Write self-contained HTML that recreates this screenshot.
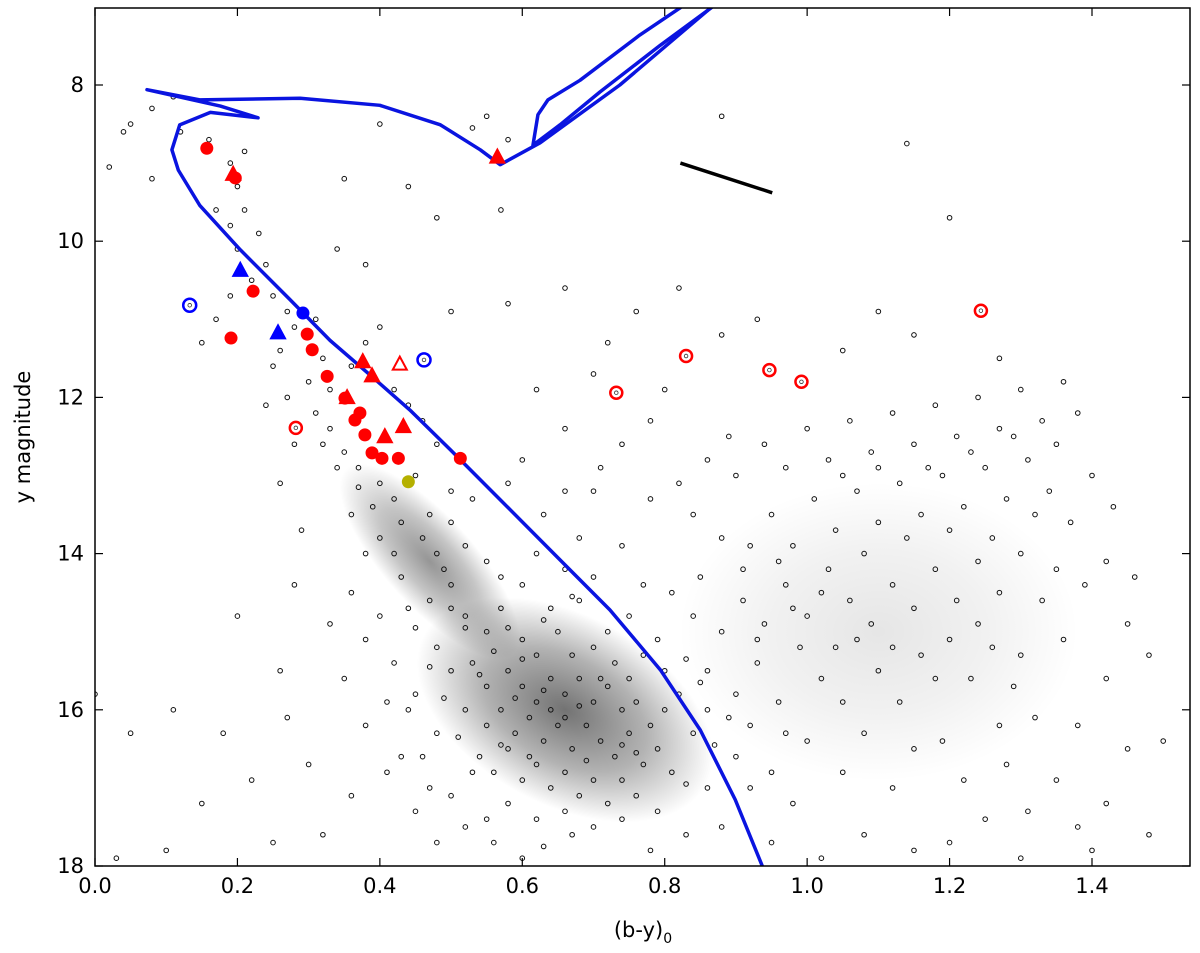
<!DOCTYPE html>
<html><head><meta charset="utf-8"><style>
html,body{margin:0;padding:0;background:#fff;overflow:hidden}
svg{display:block}
text{font-family:"DejaVu Sans","Liberation Sans",sans-serif;fill:#000}
</style></head><body>
<svg id="chart" width="1200" height="953" viewBox="0 0 1200 953" xmlns="http://www.w3.org/2000/svg">
<defs>
<radialGradient id="core" cx="50%" cy="50%" r="50%">
<stop offset="0%" stop-color="#000" stop-opacity="0.55"/>
<stop offset="55%" stop-color="#000" stop-opacity="0.3"/>
<stop offset="100%" stop-color="#000" stop-opacity="0"/>
</radialGradient>
<clipPath id="plotclip"><rect x="95" y="8" width="1095" height="858"/></clipPath>
</defs>
<g id="plot" clip-path="url(#plotclip)"></g>
<g id="axes"></g>
<text x="30" y="437" font-size="21" text-anchor="middle" transform="rotate(-90 30 437)">y magnitude</text>
<text x="643" y="937" font-size="21" text-anchor="middle">(b-y)<tspan font-size="14" dy="6">0</tspan></text>
</svg>
<script>
const xTicks=[0.0,0.2,0.4,0.6,0.8,1.0,1.2,1.4];
const yTicks=[8,10,12,14,16,18];
const isoMain=[[0.937,18.0],[0.899,17.15],[0.850,16.26],[0.794,15.49],[0.723,14.72],[0.653,14.08],[0.569,13.31],[0.499,12.67],[0.442,12.16],[0.386,11.71],[0.330,11.27],[0.274,10.75],[0.204,10.11],[0.147,9.54],[0.117,9.09],[0.108,8.83],[0.119,8.51],[0.162,8.35],[0.229,8.42],[0.176,8.27],[0.073,8.06],[0.147,8.19],[0.288,8.17],[0.400,8.26],[0.485,8.51],[0.541,8.83],[0.569,9.02],[0.625,8.74],[0.737,8.0],[0.861,7.04],[0.88,6.9]];
const isoAgb=[[0.80,6.9],[0.822,7.01],[0.765,7.36],[0.681,7.94],[0.636,8.19],[0.622,8.38],[0.615,8.77],[0.653,8.51],[0.709,8.09],[0.794,7.49],[0.867,7.0]];
const reddening=[[0.822,9.0],[0.951,9.38]];
const redCircles=[[0.157,8.81],[0.197,9.19],[0.222,10.64],[0.191,11.24],[0.298,11.19],[0.305,11.39],[0.326,11.73],[0.351,12.01],[0.372,12.20],[0.365,12.29],[0.379,12.48],[0.389,12.71],[0.403,12.78],[0.426,12.78],[0.513,12.78]];
const redTriangles=[[0.194,9.15],[0.565,8.93],[0.376,11.55],[0.389,11.73],[0.354,12.01],[0.407,12.51],[0.433,12.38]];
const redOpenTriangles=[[0.428,11.58]];
const redRings=[[0.282,12.39],[0.732,11.94],[0.830,11.47],[0.947,11.65],[0.992,11.80],[1.244,10.89]];
const blueCircles=[[0.292,10.92]];
const blueTriangles=[[0.204,10.38],[0.257,11.18]];
const blueRings=[[0.133,10.82],[0.462,11.52]];
const yellowCircles=[[0.440,13.08]];
const fieldStars=[
[0.05,8.5],[0.08,8.3],[0.11,8.15],[0.04,8.6],[0.02,9.05],[0.08,9.2],[0.12,8.6],[0.16,8.7],[0.19,9.0],[0.21,8.85],[0.2,9.3],[0.17,9.6],[0.19,9.8],[0.21,9.6],[0.23,9.9],[0.2,10.1],[0.24,10.3],[0.22,10.5],[0.19,10.7],[0.17,11.0],[0.15,11.3],[0.25,10.7],[0.27,10.9],[0.26,11.4],[0.28,11.1],[0.31,11.0],[0.32,11.5],[0.3,11.8],[0.33,11.9],[0.36,11.6],[0.38,11.3],[0.4,11.1],[0.42,11.9],[0.44,12.1],[0.46,12.3],[0.25,11.6],[0.27,12.0],[0.24,12.1],[0.28,12.6],[0.26,13.1],[0.33,12.4],[0.35,12.7],[0.37,12.9],[0.4,13.1],[0.42,13.3],[0.45,13.0],[0.48,12.6],[0.5,13.2],[0.43,13.6],[0.46,13.8],[0.48,14.0],[0.5,13.6],[0.52,13.9],[0.55,14.1],[0.53,13.3],[0.58,13.1],[0.6,12.8],[0.63,13.5],[0.57,14.3],[0.6,14.4],[0.62,14.0],[0.66,14.2],[0.7,14.3],[0.64,14.7],[0.68,14.6],[0.72,15.0],[0.5,14.4],[0.47,14.6],[0.52,14.8],[0.55,15.0],[0.57,14.7],[0.6,15.1],[0.62,15.3],[0.65,15.0],[0.67,15.3],[0.7,15.2],[0.73,15.4],[0.75,15.6],[0.77,15.3],[0.8,15.5],[0.82,15.8],[0.48,15.2],[0.5,15.5],[0.53,15.4],[0.55,15.7],[0.58,15.5],[0.6,15.7],[0.62,15.9],[0.64,15.6],[0.66,15.8],[0.68,15.6],[0.7,15.9],[0.72,15.7],[0.74,16.0],[0.76,15.9],[0.78,16.2],[0.8,16.0],[0.84,16.3],[0.86,16.0],[0.52,16.0],[0.55,16.2],[0.57,16.0],[0.59,16.3],[0.61,16.1],[0.63,16.4],[0.65,16.2],[0.67,16.5],[0.69,16.2],[0.71,16.4],[0.73,16.6],[0.75,16.3],[0.77,16.7],[0.79,16.5],[0.81,16.8],[0.54,16.6],[0.56,16.8],[0.58,16.5],[0.6,16.9],[0.62,16.7],[0.64,17.0],[0.66,16.8],[0.68,17.1],[0.7,16.9],[0.72,17.2],[0.74,16.9],[0.76,17.1],[0.58,17.2],[0.62,17.4],[0.66,17.3],[0.7,17.5],[0.74,17.4],[0.5,17.1],[0.46,16.6],[0.44,16.0],[0.42,15.4],[0.45,15.8],[0.48,16.3],[0.4,14.8],[0.43,14.3],[0.38,14.0],[0.36,13.5],[0.4,13.8],[0.52,17.5],[0.56,17.7],[0.6,17.9],[0.45,17.3],[0.41,16.8],[0.38,16.2],[0.35,15.6],[0.3,16.7],[0.32,17.6],[0.26,15.5],[0.22,16.9],[0.15,17.2],[0.03,17.9],[0.1,17.8],[0.05,16.3],[0.11,16.0],[0.2,14.8],[0.28,14.4],[0.29,13.7],[0.86,17.0],[0.88,17.5],[0.9,16.6],[0.92,16.2],[0.95,16.8],[0.98,17.2],[1.0,16.4],[0.9,15.8],[0.93,15.4],[0.96,15.9],[0.99,15.2],[1.02,15.6],[1.05,15.9],[1.08,16.3],[1.1,15.5],[1.13,15.9],[1.16,15.3],[0.88,15.0],[0.91,14.6],[0.94,14.9],[0.97,14.4],[1.0,14.8],[1.03,14.2],[1.06,14.6],[1.09,14.9],[1.12,14.4],[1.15,14.7],[1.18,14.2],[1.21,14.6],[1.24,14.1],[1.27,14.5],[1.3,14.0],[0.85,14.3],[0.88,13.8],[0.92,13.9],[0.95,13.5],[0.98,13.9],[1.01,13.3],[1.04,13.7],[1.07,13.2],[1.1,13.6],[1.13,13.1],[1.16,13.5],[1.19,13.0],[1.22,13.4],[1.25,12.9],[1.28,13.3],[1.31,12.8],[1.34,13.2],[1.37,13.6],[1.4,13.0],[0.82,13.1],[0.86,12.8],[0.9,13.0],[0.94,12.6],[0.97,12.9],[1.0,12.4],[1.03,12.8],[1.06,12.3],[1.09,12.7],[1.12,12.2],[1.15,12.6],[1.18,12.1],[1.21,12.5],[1.24,12.0],[1.27,12.4],[1.3,11.9],[1.33,12.3],[1.36,11.8],[0.78,12.3],[0.74,12.6],[0.7,13.2],[0.66,12.4],[0.62,11.9],[0.72,11.3],[0.76,10.9],[0.82,10.6],[0.88,11.2],[0.93,11.0],[1.05,11.4],[1.1,10.9],[1.15,11.2],[1.27,11.5],[1.29,12.5],[1.33,14.6],[1.36,15.1],[1.39,14.4],[1.42,15.6],[1.45,14.9],[1.48,15.3],[1.2,15.1],[1.23,15.6],[1.26,15.2],[1.29,15.7],[1.32,16.1],[1.19,16.4],[1.22,16.9],[1.25,17.4],[1.28,16.7],[1.31,17.3],[1.35,16.9],[1.38,17.5],[1.42,17.2],[1.45,16.5],[1.12,17.0],[1.08,17.6],[1.02,17.9],[1.15,17.8],[1.2,17.7],[1.3,17.9],[1.4,17.8],[1.48,17.6],[0.95,17.7],[0.83,17.6],[0.78,17.8],[1.14,8.75],[1.2,9.7],[0.88,8.4],[0.55,8.4],[0.53,8.55],[0.58,8.7],[0.4,8.5],[0.44,9.3],[0.35,9.2],[0.48,9.7],[0.57,9.6],[0.38,10.3],[0.34,10.1],[0.5,10.9],[0.58,10.8],[0.66,10.6],[0.7,11.7],[0.8,11.9],[1.46,14.3],[1.5,16.4],[0.0,15.8],[0.64,16.0],[0.66,16.1],[0.68,15.95],[0.63,15.75],[0.61,16.6],[0.69,16.65],[0.71,15.6],[0.59,15.85],[0.57,16.45],[0.74,16.45],[0.76,16.55],[0.6,15.35],[0.56,15.25],[0.54,15.55],[0.52,14.95],[0.5,14.7],[0.49,14.2],[0.47,13.5],[0.45,14.95],[0.58,14.95],[0.63,14.85],[0.67,14.55],[0.75,14.8],[0.79,15.1],[0.83,15.35],[0.85,15.65],[0.87,16.45],[0.83,16.95],[0.79,17.3],[0.67,17.6],[0.63,17.75],[0.55,17.4],[0.53,16.8],[0.51,16.35],[0.49,15.85],[0.47,15.45],[0.44,14.7],[0.42,14.0],[0.39,13.4],[0.37,13.15],[0.34,12.9],[0.32,12.6],[0.31,12.2],
[0.91,14.2],[0.96,14.1],[1.02,14.5],[1.08,14.0],[1.14,13.8],[1.2,13.7],[1.26,13.8],[1.32,13.5],[1.35,14.2],[1.42,14.1],[0.93,15.1],[0.98,14.7],[1.04,15.2],[1.07,15.1],[1.12,15.2],[1.18,15.6],[1.24,14.9],[1.3,15.3],[1.38,16.2],[1.27,16.2],[1.15,16.5],[1.05,16.8],[0.97,16.3],[0.92,17.0],[0.89,16.1],[0.86,15.5],[0.84,14.8],[0.81,14.5],[0.77,14.4],[0.74,13.9],[0.68,13.8],[0.66,13.2],[0.71,12.9],[0.78,13.3],[0.84,13.5],[0.89,12.5],[1.05,13.0],[1.1,12.9],[1.17,12.9],[1.23,12.7],[1.35,12.6],[1.38,12.2],[1.43,13.4],[0.36,14.5],[0.33,14.9],[0.38,15.1],[0.41,15.9],[0.43,16.6],[0.47,17.0],[0.48,17.7],[0.36,17.1],[0.27,16.1],[0.25,17.7],[0.18,16.3]
];
const NS='http://www.w3.org/2000/svg';
const X0=95,X1=1092,Y0=85,Y1=866;
function sx(v){return X0+(v-0)*(X1-X0)/1.4;}
function sy(v){return Y0+(v-8)*(Y1-Y0)/10;}
const plot=document.getElementById('plot');
const axes=document.getElementById('axes');
function mk(tag,attrs,parent){const e=document.createElementNS(NS,tag);for(const k in attrs)e.setAttribute(k,attrs[k]);parent.appendChild(e);return e;}

let blob=mk('ellipse',{cx:sx(0.66),cy:sy(16.0),rx:160,ry:95,fill:'url(#core)',transform:'rotate(28 '+sx(0.66)+' '+sy(16.0)+')'},plot);


let blob2=mk('ellipse',{cx:sx(0.47),cy:sy(14.1),rx:125,ry:45,fill:'url(#core)',opacity:0.75,transform:'rotate(48 '+sx(0.47)+' '+sy(14.1)+')'},plot);


let blob3=mk('ellipse',{cx:sx(1.1),cy:sy(15.0),rx:200,ry:150,fill:'url(#core)',opacity:0.18},plot);



fieldStars.forEach(p=>{
 const c=mk('circle',{cx:sx(p[0]),cy:sy(p[1]),r:2.3,fill:'none',stroke:'#111','stroke-width':1},plot);
 
 
});
function poly(pts,color,w,name){
 const e=mk('polyline',{points:pts.map(p=>sx(p[0])+','+sy(p[1])).join(' '),fill:'none',stroke:color,'stroke-width':w,'stroke-linejoin':'round'},plot);
 
 
}
poly(isoMain,'#0a14e0',3.5,'isochrone');
poly(isoAgb,'#0a14e0',3.5,'isochrone-agb');
poly(reddening,'#000',3.5,'reddening-vector');
function tri(p,fill,stroke,name){
 const x=sx(p[0]),y=sy(p[1]);
 const e=mk('polygon',{points:(x)+','+(y-8)+' '+(x-7)+','+(y+5)+' '+(x+7)+','+(y+5),fill:fill,stroke:stroke,'stroke-width':2},plot);
 
 
}
function dot(p,r,fill,stroke,sw,name){
 const e=mk('circle',{cx:sx(p[0]),cy:sy(p[1]),r:r,fill:fill,stroke:stroke,'stroke-width':sw},plot);
 
 
}
redCircles.forEach(p=>dot(p,6.5,'#f00','none',0,'red-member'));
redTriangles.forEach(p=>tri(p,'#f00','#f00','red-triangle-member'));
redOpenTriangles.forEach(p=>tri(p,'none','#f00','red-open-triangle'));
redRings.forEach(p=>{dot(p,6,'none','#f00',2.5,'red-ring');dot(p,1.8,'none','#333',0.8,'red-ring-center');});
blueCircles.forEach(p=>dot(p,6.5,'#00f','none',0,'blue-member'));
blueTriangles.forEach(p=>tri(p,'#00f','#00f','blue-triangle-member'));
blueRings.forEach(p=>{dot(p,6.5,'none','#00f',2.5,'blue-ring');dot(p,1.8,'none','#333',0.8,'blue-ring-center');});
yellowCircles.forEach(p=>dot(p,6.5,'#b5b000','none',0,'yellow-member'));

let frame=mk('rect',{x:95,y:8,width:1095,height:858,fill:'none',stroke:'#000','stroke-width':1.5},axes);


xTicks.forEach(v=>{
 const x=sx(v);
 mk('line',{x1:x,y1:866,x2:x,y2:858,stroke:'#000','stroke-width':1.2},axes);
 mk('line',{x1:x,y1:8,x2:x,y2:16,stroke:'#000','stroke-width':1.2},axes);
 const t=mk('text',{x:x,y:893,'text-anchor':'middle','font-size':21},axes);
 t.textContent=v.toFixed(1);
 
 
});
yTicks.forEach(v=>{
 const y=sy(v);
 mk('line',{x1:95,y1:y,x2:103,y2:y,stroke:'#000','stroke-width':1.2},axes);
 mk('line',{x1:1190,y1:y,x2:1182,y2:y,stroke:'#000','stroke-width':1.2},axes);
 const t=mk('text',{x:84,y:y+7,'text-anchor':'end','font-size':21},axes);
 t.textContent=v;
 
 
});
</script>
</body></html>
